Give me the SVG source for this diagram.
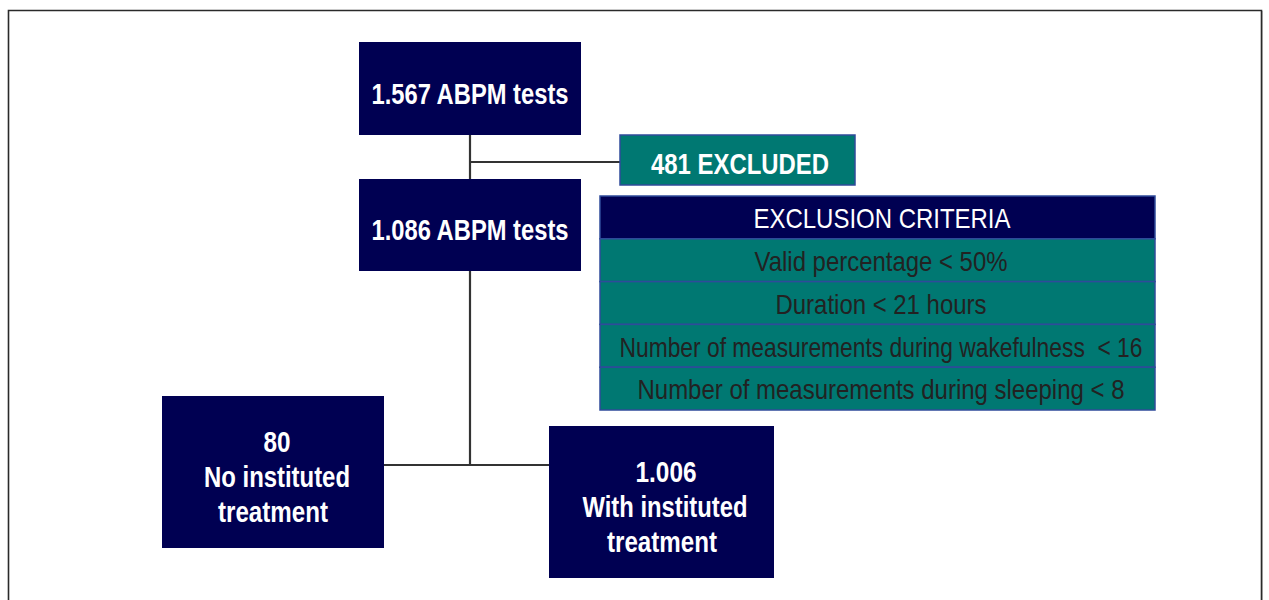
<svg xmlns="http://www.w3.org/2000/svg" width="1269" height="600" viewBox="0 0 1269 600">
  <style>
    .navy { fill: #000052; }
    .teal { fill: #007872; stroke: #2f4b9a; stroke-width: 1.5; }
    .hdr { fill: #000052; stroke: #2f4b9a; stroke-width: 1.5; }
    .bold { font-family: "Liberation Sans Narrow", "Liberation Sans", Arial, sans-serif; font-weight: bold; fill: #ffffff; font-size: 29px; text-anchor: middle; }
    .crit { font-family: "Liberation Sans Narrow", "Liberation Sans", Arial, sans-serif; fill: #222222; font-size: 28px; text-anchor: middle; }
    .head { font-family: "Liberation Sans Narrow", "Liberation Sans", Arial, sans-serif; fill: #ffffff; font-size: 28px; text-anchor: middle; }
    .link { stroke: #333333; stroke-width: 2.2; fill: none; }
  </style>

  <!-- frame -->
  <path d="M8.5 600 V10.5 H1261.5 V600" fill="none" stroke="#2a2a2a" stroke-width="1.6"/>
  <line x1="1262.5" y1="11" x2="1262.5" y2="600" stroke="#9a9a9a" stroke-width="1"/>

  <g id="connectors">
    <line class="link" x1="470" y1="135" x2="470" y2="179"/>
    <line class="link" x1="470" y1="162" x2="620" y2="162"/>
    <line class="link" x1="470" y1="271" x2="470" y2="465"/>
    <line class="link" x1="384" y1="465" x2="549" y2="465"/>
  </g>

  <g id="total">
    <rect class="navy" x="359" y="42" width="222" height="93"/>
    <text class="bold" x="470" y="104" textLength="197" lengthAdjust="spacingAndGlyphs">1.567 ABPM tests</text>
  </g>

  <g id="excluded">
    <rect class="teal" x="620" y="135" width="235" height="50"/>
    <text class="bold" x="740" y="174" textLength="178" lengthAdjust="spacingAndGlyphs">481 EXCLUDED</text>
  </g>

  <g id="included">
    <rect class="navy" x="359" y="179" width="222" height="92"/>
    <text class="bold" x="470" y="240" textLength="197" lengthAdjust="spacingAndGlyphs">1.086 ABPM tests</text>
  </g>

  <g id="criteria">
    <rect class="hdr" x="600" y="196" width="555" height="42.8"/>
    <rect class="teal" x="600" y="238.8" width="555" height="42.8"/>
    <rect class="teal" x="600" y="281.6" width="555" height="42.8"/>
    <rect class="teal" x="600" y="324.4" width="555" height="42.8"/>
    <rect class="teal" x="600" y="367.2" width="555" height="42.8"/>
    <text class="head" x="882" y="228" textLength="257" lengthAdjust="spacingAndGlyphs">EXCLUSION CRITERIA</text>
    <text class="crit" x="881" y="271" textLength="253" lengthAdjust="spacingAndGlyphs">Valid percentage &lt; 50%</text>
    <text class="crit" x="881" y="314" textLength="211" lengthAdjust="spacingAndGlyphs">Duration &lt; 21 hours</text>
    <text class="crit" x="881" y="357" textLength="523" lengthAdjust="spacingAndGlyphs" xml:space="preserve">Number of measurements during wakefulness  &lt; 16</text>
    <text class="crit" x="881" y="399" textLength="487" lengthAdjust="spacingAndGlyphs">Number of measurements during sleeping &lt; 8</text>
  </g>

  <g id="untreated">
    <rect class="navy" x="162" y="396" width="222" height="152"/>
    <text class="bold" x="277" y="452" textLength="27" lengthAdjust="spacingAndGlyphs">80</text>
    <text class="bold" x="277" y="487" textLength="146" lengthAdjust="spacingAndGlyphs">No instituted</text>
    <text class="bold" x="273" y="522" textLength="110" lengthAdjust="spacingAndGlyphs">treatment</text>
  </g>

  <g id="treated">
    <rect class="navy" x="549" y="426" width="225" height="152"/>
    <text class="bold" x="666" y="482" textLength="61" lengthAdjust="spacingAndGlyphs">1.006</text>
    <text class="bold" x="665" y="517" textLength="165" lengthAdjust="spacingAndGlyphs">With instituted</text>
    <text class="bold" x="662" y="552" textLength="110" lengthAdjust="spacingAndGlyphs">treatment</text>
  </g>
</svg>
